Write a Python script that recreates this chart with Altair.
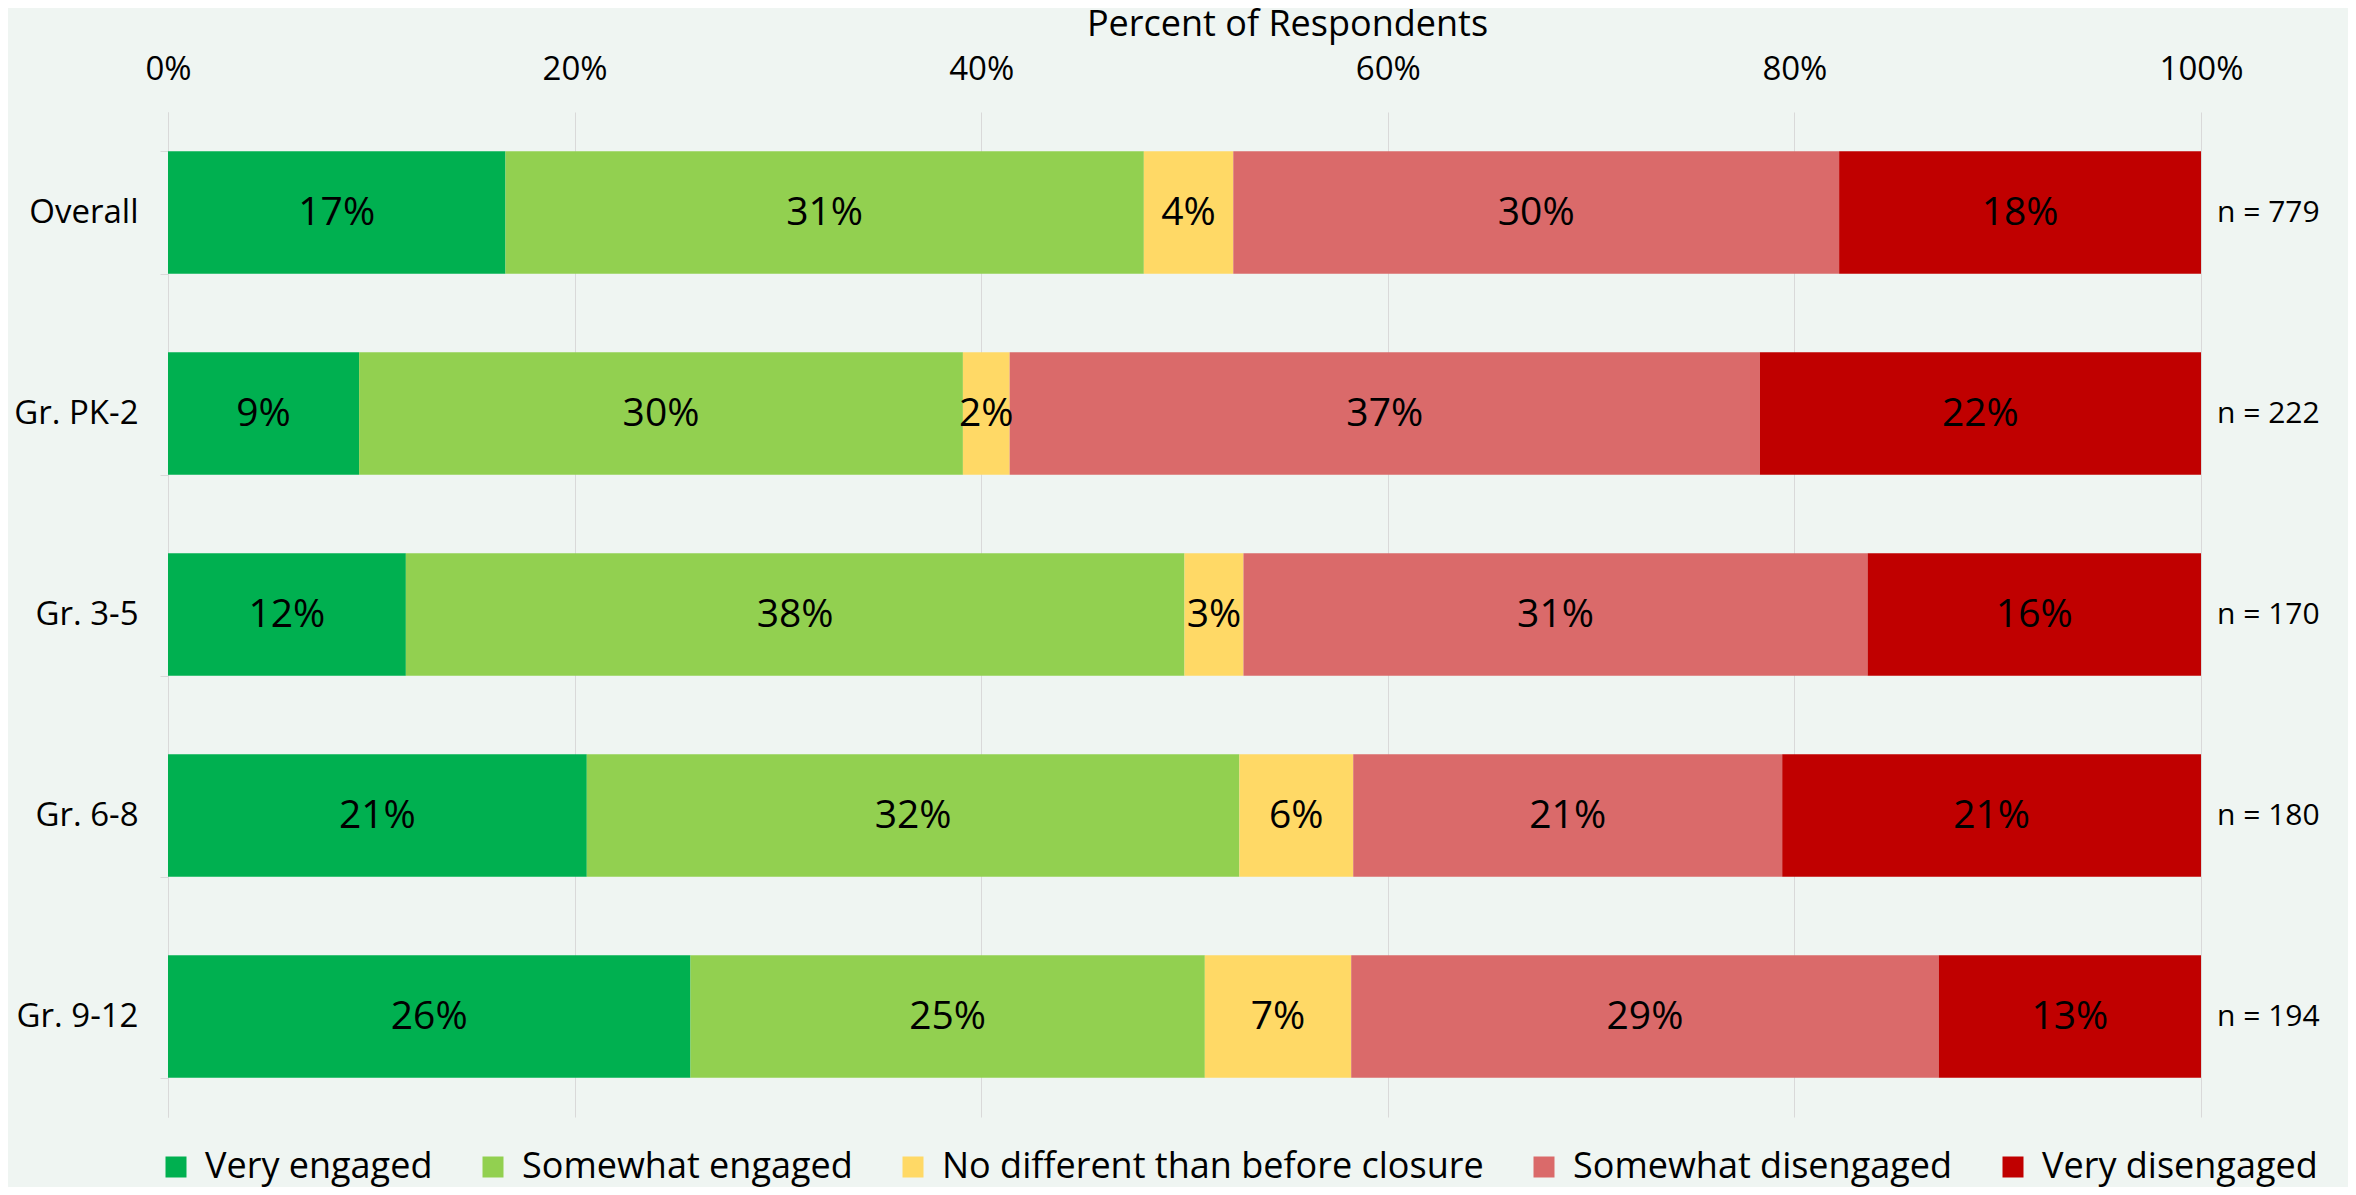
import altair as alt
import pandas as pd

groups = ["Overall", "Gr. PK-2", "Gr. 3-5", "Gr. 6-8", "Gr. 9-12"]
responses = ["Very engaged", "Somewhat engaged", "No different than before closure",
             "Somewhat disengaged", "Very disengaged"]
colors = ["#00B050", "#92D050", "#FFD966", "#DA6A6A", "#C00000"]

very_engaged = [16.6, 9.4, 11.7, 20.6, 25.7]
somewhat_engaged = [31.4, 29.7, 38.3, 32.1, 25.3]
no_different = [4.4, 2.3, 2.9, 5.6, 7.2]
somewhat_disengaged = [29.8, 36.9, 30.7, 21.1, 28.9]
very_disengaged = [17.8, 21.7, 16.4, 20.6, 12.9]
n_counts = [779, 222, 170, 180, 194]
x_ticks = [0, 20, 40, 60, 80, 100]

series = [very_engaged, somewhat_engaged, no_different, somewhat_disengaged, very_disengaged]
rows = []
for ri, (resp, vals) in enumerate(zip(responses, series)):
    for g, v in zip(groups, vals):
        rows.append({"group": g, "response": resp, "order": ri, "value": v})
df = pd.DataFrame(rows)
df_n = pd.DataFrame({"group": groups, "n": [f"n = {n}" for n in n_counts]})

FONT = "Open Sans"
GRID = "#D9D9D9"

base = alt.Chart(df).transform_stack(
    stack="value", groupby=["group"], sort=[alt.SortField("order", "ascending")], as_=["x0", "x1"]
).transform_calculate(
    mid="(datum.x0 + datum.x1) / 2",
    label="format(datum.value, '.0f') + '%'"
)

y_enc = alt.Y("group:N", sort=groups, title=None,
              scale=alt.Scale(paddingInner=0.39),
              axis=alt.Axis(tickBand="extent", ticks=True, tickSize=8, tickColor=GRID,
                            domain=True, domainColor=GRID, labelFontSize=33,
                            labelColor="black", labelPadding=22, labelFont=FONT))

x_scale = alt.Scale(domain=[0, 100], nice=False)

bars = base.mark_bar().encode(
    y=y_enc,
    x=alt.X("x0:Q", scale=x_scale, title="Percent of Respondents",
            axis=alt.Axis(orient="top", values=x_ticks, labelExpr="datum.value + '%'",
                          grid=True, gridColor=GRID, domain=False, ticks=False,
                          labelFlush=False,
                          labelFontSize=33, labelColor="black", labelPadding=26,
                          titleFontSize=36, titleFontWeight="normal", titleColor="black",
                          titleX=1119, titleY=-88, titleBaseline="middle",
                          labelFont=FONT, titleFont=FONT)),
    x2="x1:Q",
    color=alt.Color("response:N", sort=responses,
                    scale=alt.Scale(domain=responses, range=colors),
                    legend=alt.Legend(orient="none", legendX=-10, legendY=1037, padding=0,
                                      direction="horizontal", title=None,
                                      symbolType="square", symbolSize=441, symbolStrokeWidth=0,
                                      labelFontSize=36, labelColor="black", labelLimit=0,
                                      columnPadding=42, labelOffset=11,
                                      labelFont=FONT)),
)

labels = base.mark_text(fontSize=39, color="black", font=FONT).encode(
    y=alt.Y("group:N", sort=groups),
    x=alt.X("mid:Q", scale=x_scale),
    text="label:N",
)

nlab = alt.Chart(df_n).mark_text(fontSize=30, color="black", align="left", dx=16, font=FONT).encode(
    y=alt.Y("group:N", sort=groups),
    x=alt.datum(100),
    text="n:N",
)

chart = alt.layer(bars, labels, nlab).properties(
    width=2033, height=1005,
    autosize=alt.AutoSizeParams(type="none"),
    padding={"left": 160, "top": 104, "right": 147, "bottom": 70},
    background="#EFF5F2",
).configure_view(stroke=None)

chart.save("out.html", embed_options={"renderer": "svg", "actions": False})
